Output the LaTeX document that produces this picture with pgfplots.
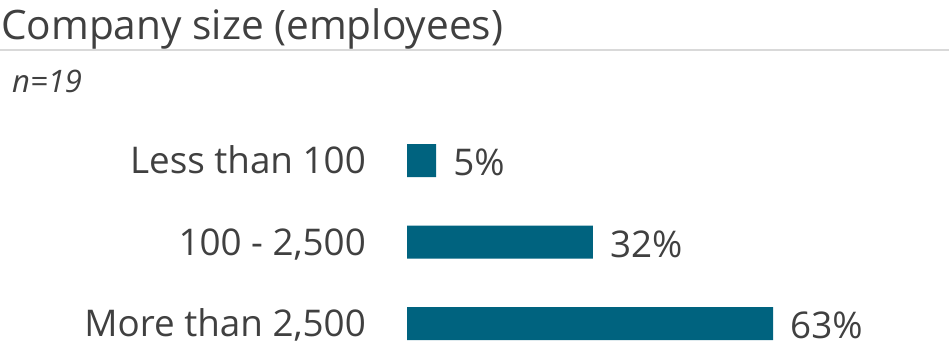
\documentclass[border=0pt]{standalone}
\usepackage{pgfplots}
\pgfplotsset{compat=1.18}
\usepackage{fontspec}
\setmainfont{Open Sans}
\definecolor{barblue}{HTML}{00637F}
\definecolor{txtgray}{HTML}{404040}
\definecolor{linegray}{HTML}{D9D9D9}
\begin{document}
\begin{tikzpicture}[x=1pt,y=1pt]
\useasboundingbox (0,0) rectangle (949,349);
\node[anchor=base west, inner sep=0pt, text=txtgray, font=\fontsize{40.6}{48}\selectfont] at (1,309) {Company size (employees)};
\draw[linegray, line width=2pt] (0,299) -- (949,299);
\node[anchor=base west, inner sep=0pt, text=txtgray, font=\fontsize{31}{37}\selectfont\itshape] at (12,257) {n=19};
\begin{axis}[
  anchor=origin, at={(407pt,25.5pt)},
  x=5.81pt, y=81.5pt,
  xmin=0, xmax=70, ymin=-0.5, ymax=2.5,
  xbar, bar width=33pt,
  axis lines=left, axis line style={draw=none}, tick style={draw=none},
  tick align=inside, major tick length=0pt,
  xtick=\empty, ytick={0,1,2},
  yticklabels={More than 2{,}500, 100 - 2{,}500, Less than 100},
  yticklabel style={anchor=base east, inner sep=0pt, yshift=-13pt, xshift=-41pt, text=txtgray, font=\fontsize{36.8}{44}\selectfont},
  nodes near coords={\pgfmathprintnumber[assume math mode=true]{\pgfplotspointmeta}\%},
  nodes near coords style={anchor=base west, inner sep=0pt, xshift=17pt, yshift=-15pt, text=txtgray, font=\fontsize{36.8}{44}\selectfont},
  clip=false,
]
\addplot[fill=barblue, draw=none] coordinates {(63,0) (32,1) (5,2)};
\end{axis}
\end{tikzpicture}
\end{document}
